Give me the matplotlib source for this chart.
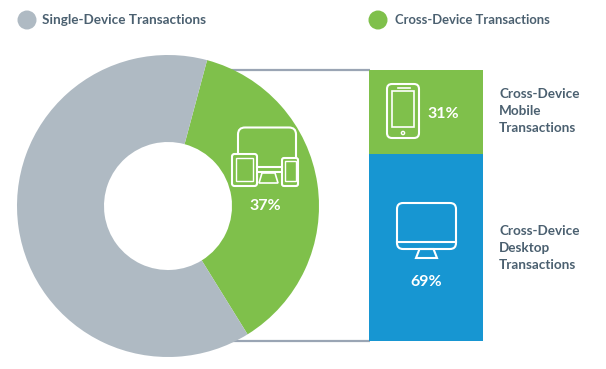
import matplotlib
matplotlib.use('Agg')
import matplotlib.pyplot as plt
from matplotlib.patches import Circle, FancyBboxPatch, Polygon, Rectangle

# share of all transactions
donut_labels = ['Cross-Device Transactions', 'Single-Device Transactions']
donut_values = [37, 63]
# split of the cross-device part
split_labels = ['Cross-Device\nMobile\nTransactions', 'Cross-Device\nDesktop\nTransactions']
split_values = [31, 69]

GREY = '#afbac3'
GREEN = '#7fc04b'
BLUE = '#1796d2'
TEXT = '#4b6070'
W, H = 606, 369

plt.rcParams['font.family'] = ['Lato', 'DejaVu Sans']
fig = plt.figure(figsize=(W / 100, H / 100), dpi=100)

# donut, y goes up here
ax = fig.add_axes([0, 0, 1, 1])
ax.hlines([H - 70, H - 341], 225, 370, color='#9aa5b4', lw=1.6, zorder=0)
ax.pie(donut_values, colors=[GREEN, GREY], startangle=75, counterclock=False,
       center=(168, H - 206), radius=151, frame=True,
       wedgeprops={'width': 87, 'linewidth': 0})
ax.set_xlim(0, W)
ax.set_ylim(0, H)
ax.axis('off')

# stacked bar
bx = fig.add_axes([369 / W, (H - 341) / H, 114 / W, 271 / H])
bx.bar([0], split_values[0], width=1, color=GREEN)
bx.bar([0], split_values[1], width=1, bottom=split_values[0], color=BLUE)
bx.set_xlim(-0.5, 0.5)
bx.set_ylim(100, 0)
bx.axis('off')

# texts and icons in pixel coords of the picture
ov = fig.add_axes([0, 0, 1, 1])
ov.set_xlim(0, W)
ov.set_ylim(H, 0)
ov.axis('off')
ov.patch.set_alpha(0)


def box(x0, y0, x1, y1, r=3, fc='none', lw=1.5):
    ov.add_patch(FancyBboxPatch((x0 + r, y0 + r), x1 - x0 - 2 * r, y1 - y0 - 2 * r,
                                boxstyle=f'round,pad={r},rounding_size={r}',
                                fc=fc, ec='white', lw=lw))


def stand(xt0, xt1, xb0, xb1, yt, yb, lw=1.5):
    ov.add_patch(Polygon([(xt0, yt), (xt1, yt), (xb1, yb), (xb0, yb)], closed=True,
                         fc='none', ec='white', lw=lw))


ov.add_patch(Circle((27, 20), 9.5, fc=GREY, ec='none'))
ov.add_patch(Circle((378, 20), 9.5, fc=GREEN, ec='none'))
kw = dict(color=TEXT, fontweight='bold', va='center', ha='left')
ov.text(42, 20, donut_labels[1], fontsize=9.7, **kw)
ov.text(395, 20, donut_labels[0], fontsize=9.4, **kw)
ov.text(499, 111, split_labels[0], fontsize=9.7, linespacing=1.52, **kw)
ov.text(499, 248, split_labels[1], fontsize=9.7, linespacing=1.5, **kw)

pc = dict(color='white', fontsize=11.5, fontweight='bold', va='center', ha='center')
ov.text(265, 205.5, f'{donut_values[0]}%', **pc)
ov.text(443, 113.5, f'{split_values[0]}%', **pc)
ov.text(426, 282.5, f'{split_values[1]}%', **pc)

# devices icon in the donut, tablet and phone cover the monitor corners
box(238, 127.5, 296, 172, r=7)
box(232, 154, 257, 186, r=2.5, fc=GREEN)
ov.add_patch(Rectangle((236, 158), 17, 23, fc='none', ec='white', lw=1))
box(282, 158, 298, 186, r=2, fc=GREEN)
ov.add_patch(Rectangle((284.5, 161), 11, 20, fc='none', ec='white', lw=1))
ov.plot([257, 282], [167, 167], color='white', lw=1.5)
stand(262, 275, 259, 278, 173, 183, lw=1.2)

# phone icon
box(387, 84, 419, 138, r=5)
ov.add_patch(Rectangle((392, 91), 22, 36, fc='none', ec='white', lw=1.2))
ov.plot([398, 410], [88, 88], color='white', lw=1.2)
ov.add_patch(Circle((403, 133), 1.6, fc='none', ec='white', lw=1))

# desktop icon
box(397, 203, 456, 249, r=6)
ov.plot([397, 456], [242, 242], color='white', lw=1.5)
stand(419.5, 433.5, 416, 437, 249, 258)

fig.savefig('out.png', dpi=100)
